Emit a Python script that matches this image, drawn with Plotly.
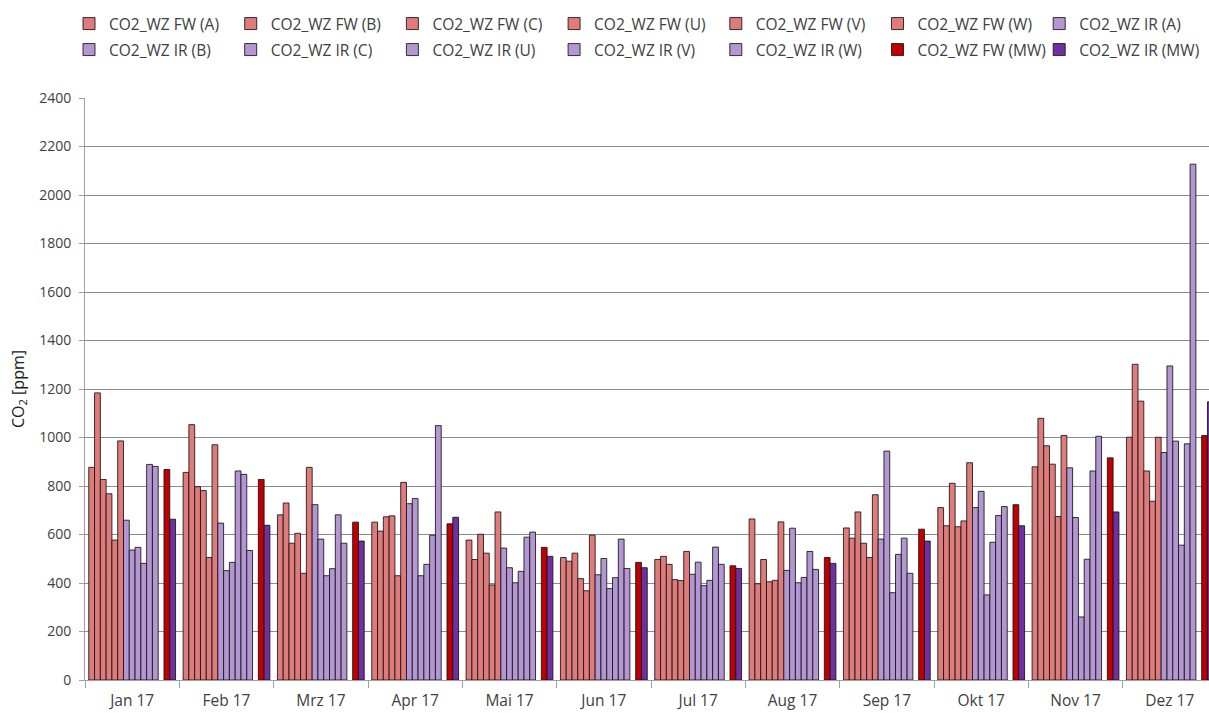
import plotly.graph_objects as go

months = ["Jan 17", "Feb 17", "Mrz 17", "Apr 17", "Mai 17", "Jun 17",
          "Jul 17", "Aug 17", "Sep 17", "Okt 17", "Nov 17", "Dez 17"]

fw_a = [877, 856, 681, 651, 577, 505, 497, 664, 627, 711, 879, 1001]
fw_b = [1184, 1053, 730, 614, 497, 490, 510, 397, 585, 636, 1079, 1302]
fw_c = [827, 797, 564, 673, 601, 523, 477, 497, 693, 811, 966, 1150]
fw_u = [768, 781, 605, 677, 523, 418, 414, 405, 564, 632, 890, 862]
fw_v = [577, 505, 440, 430, 392, 368, 410, 411, 505, 656, 674, 737]
fw_w = [986, 970, 877, 815, 693, 597, 530, 652, 764, 896, 1008, 1001]

ir_a = [659, 647, 723, 727, 544, 434, 436, 452, 581, 711, 875, 938]
ir_b = [536, 451, 581, 748, 463, 501, 486, 626, 944, 778, 670, 1295]
ir_c = [547, 485, 430, 430, 401, 377, 389, 401, 360, 351, 260, 985]
ir_u = [481, 862, 459, 477, 448, 422, 411, 423, 518, 568, 498, 556]
ir_v = [889, 848, 681, 597, 589, 581, 548, 530, 585, 678, 862, 974]
ir_w = [881, 534, 564, 1049, 610, 460, 477, 456, 440, 715, 1005, 2127]

fw_mw = [868, 827, 651, 644, 547, 485, 471, 505, 622, 723, 916, 1008]
ir_mw = [663, 638, 573, 671, 510, 463, 460, 481, 573, 636, 693, 1147]

spacer = [None] * 12

y_ticks = [0, 200, 400, 600, 800, 1000, 1200, 1400, 1600, 1800, 2000, 2200, 2400]

FW_COL = "#E07B7B"
IR_COL = "#B497D2"
FW_MW_COL = "#C00000"
IR_MW_COL = "#7030A0"

series = [
    ("CO2_WZ FW (A)", fw_a, FW_COL),
    ("CO2_WZ FW (B)", fw_b, FW_COL),
    ("CO2_WZ FW (C)", fw_c, FW_COL),
    ("CO2_WZ FW (U)", fw_u, FW_COL),
    ("CO2_WZ FW (V)", fw_v, FW_COL),
    ("CO2_WZ FW (W)", fw_w, FW_COL),
    ("CO2_WZ IR (A)", ir_a, IR_COL),
    ("CO2_WZ IR (B)", ir_b, IR_COL),
    ("CO2_WZ IR (C)", ir_c, IR_COL),
    ("CO2_WZ IR (U)", ir_u, IR_COL),
    ("CO2_WZ IR (V)", ir_v, IR_COL),
    ("CO2_WZ IR (W)", ir_w, IR_COL),
    (None, spacer, "rgba(0,0,0,0)"),
    ("CO2_WZ FW (MW)", fw_mw, FW_MW_COL),
    ("CO2_WZ IR (MW)", ir_mw, IR_MW_COL),
]

W, H = 1209, 713
font_family = "Open Sans, Noto Sans, DejaVu Sans, sans-serif"

fig = go.Figure()
legends = {}
k = 0
for name, vals, col in series:
    if name is None:
        fig.add_trace(go.Bar(x=months, y=vals, showlegend=False,
                             marker=dict(color=col, line=dict(width=0)),
                             hoverinfo="skip"))
        continue
    leg_id = "legend" if k == 0 else f"legend{k + 1}"
    row, colidx = divmod(k, 7)
    legends[leg_id] = dict(
        orientation="h", xref="container", yref="container",
        xanchor="left", yanchor="middle",
        x=(69 + 161.7 * colidx) / W, y=1 - (24 + 26 * row) / H,
        itemwidth=30, font=dict(size=15.5, color="#404040"),
        bgcolor="rgba(0,0,0,0)", borderwidth=0,
    )
    fig.add_trace(go.Bar(x=months, y=vals, name=name, legend=leg_id,
                         marker=dict(color=col,
                                     line=dict(color="rgba(20,20,20,0.85)", width=1))))
    k += 1

fig.update_layout(
    width=W, height=H,
    margin=dict(l=85, r=0, t=98, b=33, autoexpand=False),
    paper_bgcolor="white", plot_bgcolor="white",
    barmode="group", bargap=0.08, bargroupgap=0,
    font=dict(family=font_family, size=14, color="#404040"),
    xaxis=dict(type="category", range=[-0.5, 11.415], tickson="boundaries",
               ticks="outside", ticklen=7, tickcolor="#a0a0a0",
               showline=True, linecolor="#a0a0a0", linewidth=1,
               showgrid=False, automargin=False, ticklabelstandoff=6,
               tickfont=dict(size=15.5, color="#404040")),
    yaxis=dict(range=[0, 2400], tickvals=y_ticks, ticks="outside", ticklen=5,
               tickcolor="#a0a0a0", showline=True, linecolor="#a0a0a0",
               showgrid=True, gridcolor="#8c8c8c", gridwidth=1,
               zeroline=False, automargin=False, ticklabelstandoff=5,
               tickfont=dict(size=14, color="#404040"),
               title=dict(text="CO<sub>2</sub> [ppm]", font=dict(size=16, color="#202020"),
                          standoff=10)),
    **legends,
)

fig.write_html("out.html", config={"displayModeBar": False},
               post_script="document.body.style.margin='0';")
